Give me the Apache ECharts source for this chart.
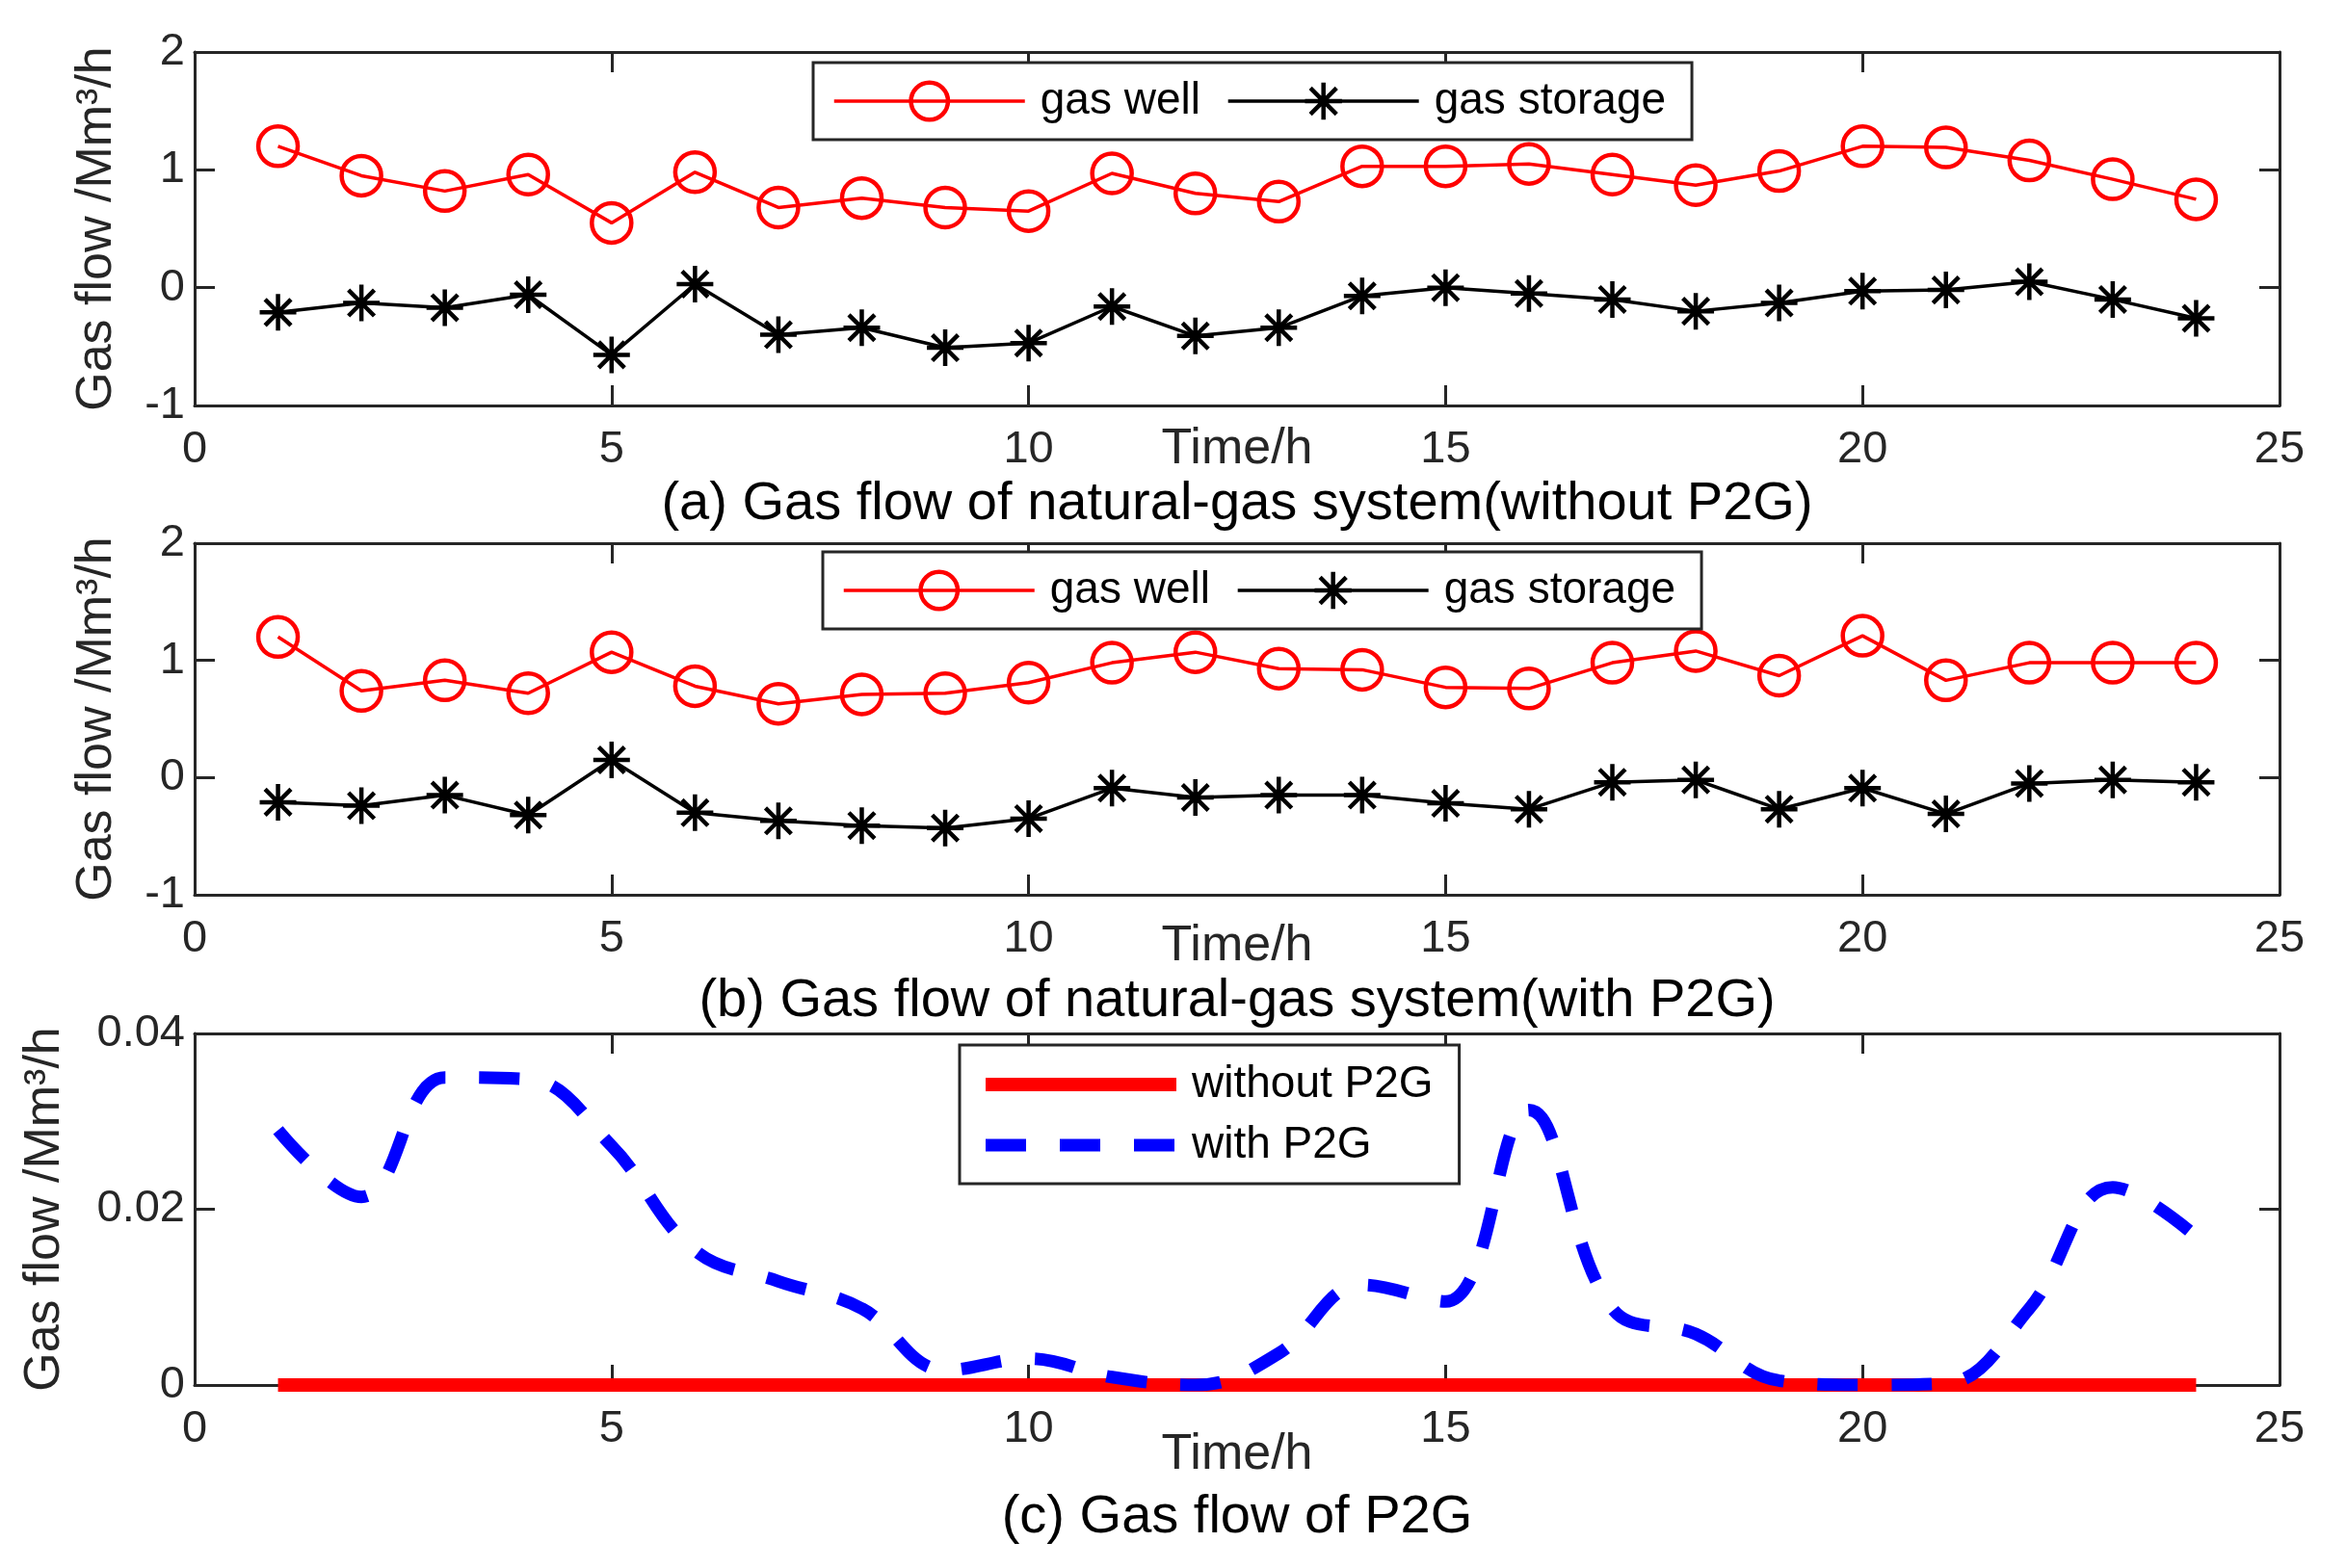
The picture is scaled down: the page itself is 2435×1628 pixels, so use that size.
<!DOCTYPE html>
<html>
<head>
<meta charset="utf-8">
<script src="https://cdn.jsdelivr.net/npm/echarts@6/dist/echarts.min.js"></script>
<style>
html,body{margin:0;padding:0;background:#fff;}
#chart{width:2435px;height:1628px;}
</style>
</head>
<body>
<div id="chart"></div>
<script>
// hours
var hours = [1,2,3,4,5,6,7,8,9,10,11,12,13,14,15,16,17,18,19,20,21,22,23,24];

// (a) without P2G
var wellA    = [1.20,0.95,0.82,0.96,0.55,0.98,0.68,0.76,0.68,0.65,0.97,0.80,0.73,1.03,1.03,1.05,0.96,0.87,0.99,1.20,1.19,1.08,0.92,0.75];
var storageA = [-0.21,-0.13,-0.17,-0.06,-0.57,0.03,-0.40,-0.34,-0.51,-0.47,-0.16,-0.41,-0.34,-0.07,0.00,-0.05,-0.10,-0.20,-0.13,-0.03,-0.02,0.05,-0.10,-0.26];

// (b) with P2G
var wellB    = [1.20,0.74,0.83,0.72,1.07,0.78,0.63,0.71,0.72,0.81,0.98,1.07,0.93,0.92,0.77,0.76,0.98,1.08,0.87,1.21,0.83,0.98,0.98,0.98];
var storageB = [-0.21,-0.24,-0.15,-0.32,0.15,-0.30,-0.37,-0.41,-0.43,-0.35,-0.09,-0.17,-0.15,-0.15,-0.22,-0.27,-0.04,-0.02,-0.27,-0.09,-0.31,-0.05,-0.02,-0.04];

// (c) P2G gas flow
var p2gWithout = [0,0,0,0,0,0,0,0,0,0,0,0,0,0,0,0,0,0,0,0,0,0,0,0];
var p2gWith    = [0.0290,0.0214,0.0350,0.0348,0.0272,0.0153,0.0118,0.0087,0.0017,0.0030,0.0009,0.0000,0.0036,0.0114,0.0095,0.0313,0.0087,0.0058,0.0005,0.0000,0.0002,0.0087,0.0225,0.0169];

// tick values
var xTicks  = [0,5,10,15,20,25];
var yTicksAB = [-1,0,1,2];
var yTicksC  = [0,0.02,0.04];

var FONT = 'Liberation Sans, Arial, sans-serif';
var AX = '#262626';
var ASTERISK = 'path://M10,0L10,20M0,10L20,10M2.93,2.93L17.07,17.07M17.07,2.93L2.93,17.07';

function pairs(xs, ys){
    return xs.map(function(x, i){ return [x, ys[i]]; });
}

function xAxes(g, nameGap){
    var base = {
        type:'value', gridIndex:g,
        min:xTicks[0], max:xTicks[xTicks.length-1], interval:xTicks[1]-xTicks[0],
        axisLine:{show:true, onZero:false, lineStyle:{color:AX, width:3}},
        axisTick:{show:true, inside:true, length:21, lineStyle:{color:AX, width:3}},
        splitLine:{show:false}
    };
    var bottom = Object.assign({}, base, {
        position:'bottom',
        name:'Time/h', nameLocation:'middle', nameGap:nameGap, nameMoveOverlap:false,
        nameTextStyle:{fontFamily:FONT, fontSize:52, color:AX},
        axisLabel:{fontFamily:FONT, fontSize:47, color:AX, margin:23}
    });
    var top = Object.assign({}, base, {position:'top', axisLabel:{show:false}});
    return [bottom, top];
}

function yAxes(g, ticks, nameGap){
    var base = {
        type:'value', gridIndex:g,
        min:ticks[0], max:ticks[ticks.length-1], interval:ticks[1]-ticks[0],
        axisLine:{show:true, onZero:false, lineStyle:{color:AX, width:3}},
        axisTick:{show:true, inside:true, length:21, lineStyle:{color:AX, width:3}},
        splitLine:{show:false}
    };
    var left = Object.assign({}, base, {
        position:'left',
        name:'Gas flow /Mm³/h', nameLocation:'middle', nameGap:nameGap, nameRotate:90, nameMoveOverlap:false,
        nameTextStyle:{fontFamily:FONT, fontSize:52, color:AX},
        axisLabel:{fontFamily:FONT, fontSize:47, color:AX, margin:10}
    });
    var right = Object.assign({}, base, {position:'right', axisLabel:{show:false}});
    return [left, right];
}

function wellSeries(name, g, ys){
    return {
        type:'line', name:name, xAxisIndex:2*g, yAxisIndex:2*g,
        data:pairs(hours, ys),
        symbol:'circle', symbolSize:41,
        lineStyle:{color:'#ff0000', width:3.5},
        itemStyle:{color:'rgba(255,255,255,0)', borderColor:'#ff0000', borderWidth:4.5},
        emphasis:{disabled:true}
    };
}

function storageSeries(name, g, ys){
    return {
        type:'line', name:name, xAxisIndex:2*g, yAxisIndex:2*g,
        data:pairs(hours, ys),
        symbol:ASTERISK, symbolSize:38, symbolKeepAspect:true,
        lineStyle:{color:'#000000', width:3.5},
        itemStyle:{color:'#000000', borderColor:'#000000', borderWidth:4.5},
        emphasis:{disabled:true}
    };
}

var legendAB = [
    {name:'gas well', lineStyle:{width:3.5}, itemStyle:{borderWidth:4.5}},
    {name:'gas storage', lineStyle:{width:3.5}, itemStyle:{borderWidth:4.5}}
];

function legendBox(left, top, items, orient){
    return {
        left:left, top:top, orient:orient,
        data:items,
        itemWidth:198, itemHeight:48,
        itemGap: orient === 'vertical' ? 15 : 27,
        padding: orient === 'vertical' ? [17,27,16,20] : [16,27,16,20],
        borderColor:AX, borderWidth:3, backgroundColor:'#fff',
        selectedMode:false,
        textStyle:{fontFamily:FONT, fontSize:46, color:'#000', lineHeight:48, padding:[0,0,0,11]}
    };
}

var chart = echarts.init(document.getElementById('chart'));

var option = {
    animation:false,
    backgroundColor:'#fff',
    grid:[
        {left:202, width:2164, top:54, height:367},
        {left:202, width:2164, top:564, height:365},
        {left:202, width:2164, top:1073, height:365}
    ],
    xAxis: [].concat(xAxes(0, 20), xAxes(1, 28), xAxes(2, 47)),
    yAxis: [].concat(yAxes(0, yTicksAB, 75), yAxes(1, yTicksAB, 75), yAxes(2, yTicksC, 129)),
    legend:[
        legendBox(844, 65, legendAB, 'horizontal'),
        legendBox(854, 573, legendAB, 'horizontal'),
        legendBox(996, 1085, [
            {name:'without P2G', itemStyle:{opacity:0}, lineStyle:{width:14}},
            {name:'with P2G', itemStyle:{opacity:0}, lineStyle:{width:13, type:[42,35]}}
        ], 'vertical')
    ],
    series:[
        wellSeries('gas well', 0, wellA),
        storageSeries('gas storage', 0, storageA),
        wellSeries('gas well', 1, wellB),
        storageSeries('gas storage', 1, storageB),
        {
            type:'line', name:'without P2G', xAxisIndex:4, yAxisIndex:4,
            data:pairs(hours, p2gWithout), symbol:'none',
            lineStyle:{color:'#ff0000', width:14},
            itemStyle:{color:'#ff0000'},
            emphasis:{disabled:true}
        },
        {
            type:'line', name:'with P2G', xAxisIndex:4, yAxisIndex:4,
            data:pairs(hours, p2gWith), symbol:'none', smooth:0.4,
            lineStyle:{color:'#0000ff', width:13, type:[42,35]},
            itemStyle:{color:'#0000ff'},
            emphasis:{disabled:true}
        }
    ],
    graphic:[
        {type:'text', x:1284, y:524, style:{text:'(a) Gas flow of natural-gas system(without P2G)', fontFamily:FONT, fontSize:56, fill:'#000', align:'center', verticalAlign:'middle'}},
        {type:'text', x:1284, y:1040, style:{text:'(b) Gas flow of natural-gas system(with P2G)', fontFamily:FONT, fontSize:56, fill:'#000', align:'center', verticalAlign:'middle'}},
        {type:'text', x:1284, y:1576, style:{text:'(c) Gas flow of P2G', fontFamily:FONT, fontSize:56, fill:'#000', align:'center', verticalAlign:'middle'}}
    ]
};

chart.setOption(option);
</script>
</body>
</html>
